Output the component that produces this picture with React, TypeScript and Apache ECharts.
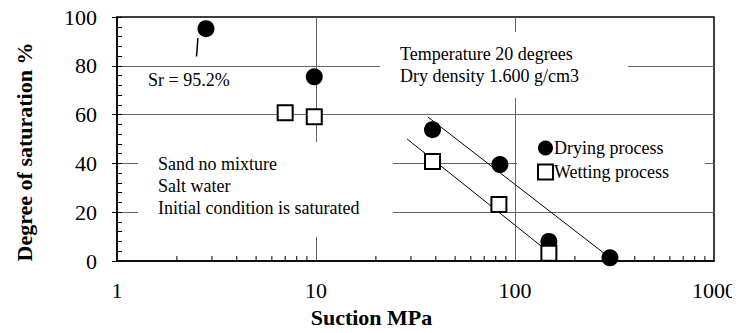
import React, { useEffect, useRef } from 'react';
import * as echarts from 'echarts';

// ---- data ----
const seriesNames = ['Drying process', 'Wetting process'];
const dryingPoints: number[][] = [
  [2.8, 95.2],
  [9.8, 75.5],
  [38.5, 53.8],
  [84, 39.5],
  [148, 8],
  [300, 1.3],
];
const wettingPoints: number[][] = [
  [7, 60.8],
  [9.8, 59.1],
  [38.5, 40.8],
  [83, 23.2],
  [148, 3.2],
];
const dryingTrend: number[][] = [
  [36.5, 59],
  [300, 1.3],
];
const wettingTrend: number[][] = [
  [28.7, 50],
  [150, 3.2],
];
const srPointer: number[][] = [
  [2.55, 91.4],
  [2.51, 83.8],
];
const xMinorTicks: number[] = [
  2, 3, 4, 5, 6, 7, 8, 9,
  20, 30, 40, 50, 60, 70, 80, 90,
  200, 300, 400, 500, 600, 700, 800, 900,
];
const xAxisTitle = 'Suction MPa';
const yAxisTitle = 'Degree of saturation %';
const srLabel = 'Sr = 95.2%';
const conditionLines = ['Temperature 20 degrees', 'Dry density 1.600 g/cm3'];
const sampleLines = ['Sand no mixture', 'Salt water', 'Initial condition is saturated'];

const FONT = 'Liberation Serif';

export default function App() {
  const ref = useRef<HTMLDivElement>(null);

  useEffect(() => {
    if (!ref.current) return;
    const chart = echarts.init(ref.current, undefined, { renderer: 'svg' });

    const whiteBox = (x: number, y: number, w: number, h: number) => ({
      type: 'rect',
      z: 1,
      silent: true,
      shape: { x, y, width: w, height: h },
      style: { fill: '#fff' },
    });
    const note = (x: number, y: number, lines: string[]) => ({
      type: 'text',
      z: 5,
      x,
      y,
      style: {
        text: lines.join('\n'),
        fontFamily: FONT,
        fontSize: 18,
        fill: '#000',
        align: 'left',
        verticalAlign: 'middle',
        lineHeight: 22,
      },
    });

    const option: any = {
      animation: false,
      backgroundColor: '#fff',
      textStyle: { fontFamily: FONT },
      grid: {
        left: 117,
        right: 26,
        top: 17,
        bottom: 71,
        show: true,
        borderColor: '#000',
        borderWidth: 1.5,
        backgroundColor: 'transparent',
      },
      legend: {
        orient: 'vertical',
        left: 537,
        top: 139,
        itemWidth: 15,
        itemHeight: 15,
        itemGap: 6,
        padding: 0,
        z: 6,
        textStyle: { fontFamily: FONT, fontSize: 18, color: '#000', padding: [0, 0, 0, -4] },
        data: seriesNames,
      },
      xAxis: {
        type: 'log',
        logBase: 10,
        min: 1,
        max: 1000,
        name: xAxisTitle,
        nameLocation: 'middle',
        nameGap: 45,
        nameTextStyle: {
          fontFamily: FONT,
          fontSize: 22,
          fontWeight: 'bold',
          color: '#000',
          padding: [0, 88, 0, 0],
        },
        axisLine: { show: true, lineStyle: { color: '#000', width: 1.5 } },
        axisTick: { show: false },
        minorTick: { show: false },
        axisLabel: {
          fontFamily: FONT,
          fontSize: 22,
          color: '#000',
          margin: 18,
          formatter: (v: number) => String(Math.round(v)),
        },
        splitLine: {
          show: true,
          showMinLine: false,
          showMaxLine: false,
          lineStyle: { color: '#666', width: 1 },
        },
      },
      yAxis: [
        {
          type: 'value',
          min: 0,
          max: 100,
          interval: 20,
          name: yAxisTitle,
          nameLocation: 'middle',
          nameRotate: 90,
          nameGap: 82,
          nameTextStyle: {
            fontFamily: FONT,
            fontSize: 22,
            fontWeight: 'bold',
            color: '#000',
            padding: [0, 26, 0, 0],
          },
          axisLine: { show: true, lineStyle: { color: '#000', width: 1.5 } },
          axisTick: { show: true, inside: true, length: 5, lineStyle: { color: '#000' } },
          minorTick: { show: true, splitNumber: 5, length: 5, lineStyle: { color: '#000' } },
          axisLabel: { fontFamily: FONT, fontSize: 22, color: '#000', margin: 20 },
          splitLine: {
            show: true,
            showMinLine: false,
            showMaxLine: false,
            lineStyle: { color: '#666', width: 1 },
          },
        },
        {
          type: 'value',
          position: 'left',
          min: 0,
          max: 100,
          interval: 20,
          axisLine: { show: false },
          axisTick: { show: true, inside: false, length: 5, lineStyle: { color: '#000' } },
          axisLabel: { show: false },
          splitLine: { show: false },
        },
      ],
      graphic: [
        whiteBox(128, 70, 135, 22),
        whiteBox(380, 32, 248, 66),
        whiteBox(138, 142, 255, 95),
        whiteBox(517, 124, 188, 57),
        note(148, 80, [srLabel]),
        note(400, 65, conditionLines),
        note(158, 186, sampleLines),
      ],
      series: [
        {
          name: seriesNames[0],
          type: 'scatter',
          z: 4,
          symbol: 'circle',
          symbolSize: 17,
          itemStyle: { color: '#000', opacity: 1 },
          data: dryingPoints,
        },
        {
          name: seriesNames[1],
          type: 'scatter',
          z: 4,
          symbol: 'rect',
          symbolSize: 15,
          itemStyle: { color: '#fff', borderColor: '#000', borderWidth: 2, opacity: 1 },
          data: wettingPoints,
        },
        {
          type: 'line',
          z: 3,
          symbol: 'none',
          lineStyle: { color: '#000', width: 1 },
          data: dryingTrend,
        },
        {
          type: 'line',
          z: 3,
          symbol: 'none',
          lineStyle: { color: '#000', width: 1 },
          data: wettingTrend,
        },
        {
          type: 'line',
          z: 3,
          symbol: 'none',
          lineStyle: { color: '#000', width: 1.5 },
          data: srPointer,
        },
        {
          type: 'custom',
          z: 3,
          silent: true,
          renderItem: (params: any, api: any) => {
            const p = api.coord([api.value(0), 0]);
            return {
              type: 'line',
              shape: { x1: p[0], y1: p[1], x2: p[0], y2: p[1] - 5 },
              style: { stroke: '#000', lineWidth: 1 },
            };
          },
          data: xMinorTicks.map((v) => [v, 0]),
        },
      ],
    };

    chart.setOption(option);
    return () => chart.dispose();
  }, []);

  return <div ref={ref} style={{ width: 740, height: 333, margin: -8 }} />;
}
